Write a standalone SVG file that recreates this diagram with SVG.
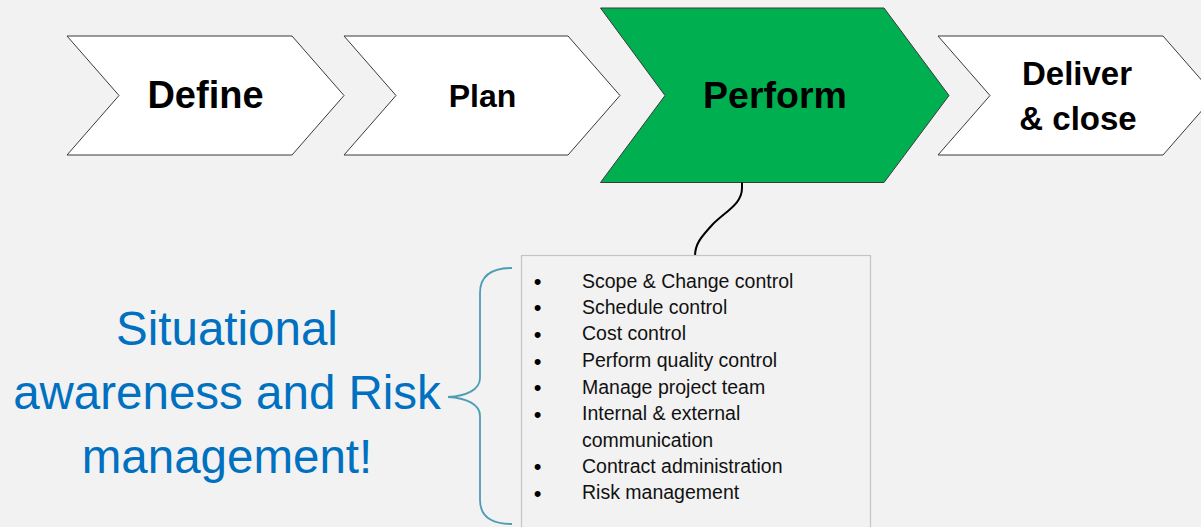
<svg xmlns="http://www.w3.org/2000/svg" width="1201" height="527" viewBox="0 0 1201 527">
<defs>
<style>
.chev{fill:#ffffff;stroke:#3a3a3a;stroke-width:1}
.chev-on{fill:#00b050;stroke:#3a3a3a;stroke-width:1}
.lbl{font-family:"Liberation Sans",Arial,sans-serif;font-weight:bold;fill:#000;text-anchor:middle}
.item{font-family:"Liberation Sans",Arial,sans-serif;font-size:19.5px;fill:#111}
.bul{font-family:"Liberation Sans",Arial,sans-serif;font-size:22px;fill:#000;text-anchor:middle}
.big{font-family:"Liberation Sans",Arial,sans-serif;font-size:47.5px;fill:#0070c0;text-anchor:middle}
</style>
</defs>
<rect x="0" y="0" width="1201" height="527" fill="#f2f2f2"/>

<g id="define">
<polygon class="chev" points="67,36 292,36 344,95.5 292,155 67,155 119,95.5"/>
<text class="lbl" x="205.5" y="108" font-size="38">Define</text>
</g>
<g id="plan">
<polygon class="chev" points="344,36 568,36 620,95.5 568,155 344,155 396,95.5"/>
<text class="lbl" x="482.5" y="107" font-size="32">Plan</text>
</g>
<g id="perform">
<polygon class="chev-on" points="600.5,8 884,8 949,95.5 884,182.5 600.5,182.5 665,95.5"/>
<text class="lbl" x="775" y="108" font-size="37.5">Perform</text>
</g>
<g id="deliver">
<polygon class="chev" points="938,36 1163,36 1215,95.5 1163,155 938,155 990,95.5"/>
<text class="lbl" x="1077" y="85" font-size="33">Deliver</text>
<text class="lbl" x="1078" y="130" font-size="33">&amp; close</text>
</g>

<g id="connectors">
<path d="M742,182.5 L742,188 C742,204 726,211 713,224 C701,237 695,244 695,256" fill="none" stroke="#000" stroke-width="2"/>
<path d="M512,268 C490,268 480,277 480,293 L480,378 C480,390 466,396 448,397 C466,398 480,404 480,416 L480,500 C480,516 490,524 512,524" fill="none" stroke="#4e9db5" stroke-width="1.8"/>
</g>

<g id="tasks">
<rect x="521.5" y="255.5" width="349" height="290" fill="#f2f2f2" stroke="#c4c4c4" stroke-width="1.2"/>
<text class="bul" x="537.5" y="289">•</text>
<text class="item" x="582" y="287.5">Scope &amp; Change control</text>
<text class="bul" x="537.5" y="315">•</text>
<text class="item" x="582" y="313.5">Schedule control</text>
<text class="bul" x="537.5" y="341.5">•</text>
<text class="item" x="582" y="340">Cost control</text>
<text class="bul" x="537.5" y="368.5">•</text>
<text class="item" x="582" y="367">Perform quality control</text>
<text class="bul" x="537.5" y="395">•</text>
<text class="item" x="582" y="393.5">Manage project team</text>
<text class="bul" x="537.5" y="421.5">•</text>
<text class="item" x="582" y="420">Internal &amp; external</text>
<text class="item" x="582" y="446.5">communication</text>
<text class="bul" x="537.5" y="474">•</text>
<text class="item" x="582" y="472.5">Contract administration</text>
<text class="bul" x="537.5" y="500.5">•</text>
<text class="item" x="582" y="499">Risk management</text>
</g>

<g id="awareness">
<text class="big" x="227" y="345">Situational</text>
<text class="big" x="227" y="409">awareness and Risk</text>
<text class="big" x="227" y="473">management!</text>
</g>
</svg>
